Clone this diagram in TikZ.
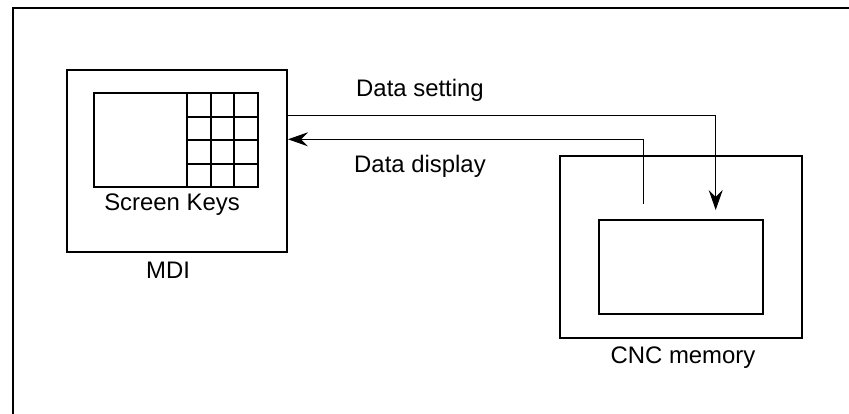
\documentclass[tikz,border=0pt]{standalone}
\usepackage{fontspec}
\setmainfont{Liberation Sans}
\usetikzlibrary{arrows.meta,calc}
\begin{document}
\begin{tikzpicture}[x=1pt,y=-1pt,
  box/.style={draw,line width=2pt,inner sep=0pt,anchor=north west},
  conn/.style={draw,line width=1pt},
  tip/.style={-{Stealth[length=20pt,width=14pt,inset=7pt]}},
  lbl/.style={font=\fontsize{23.9}{28}\selectfont,inner sep=0pt}]
\useasboundingbox (0,0) rectangle (849,414);
\fill[white] (0,0) rectangle (849,414);
% frame
\draw[line width=2pt] (12.7,414) -- (12.7,8) -- (849,8);
% MDI
\node[box,minimum width=220pt,minimum height=182pt] (mdi) at (66,69) {};
\node[box,minimum width=164pt,minimum height=93.7pt] (scr) at (92.7,92.3) {};
\draw[line width=2pt] (187,92.3) -- (187,186)
  (211.3,92.3) -- (211.3,186) (234.3,92.3) -- (234.3,186)
  (187,116.7) -- (256.7,116.7) (187,140) -- (256.7,140) (187,163.7) -- (256.7,163.7);
\node[lbl] (sk) at (172,205) {Screen Keys};
\node[lbl] (mdil) at (168,270) {MDI};
% CNC
\node[box,minimum width=241.4pt,minimum height=181.7pt] (cnc) at (559.3,155) {};
\node[box,minimum width=164pt,minimum height=94.3pt] (mem) at (597.7,219) {};
\node[lbl] (cncl) at (683,358) {CNC memory};
% connectors
\coordinate (setend) at (715.7,210);
\coordinate (dispstart) at (643.3,204);
\draw[conn,tip] ($(mdi.north east)+(0,46.7)$) -| (setend);
\draw[conn,tip] (dispstart) |- ($(mdi.north east)+(0,70.3)$);
\node[lbl] (ds) at (420,90) {Data setting};
\node[lbl] (dd) at (420,166) {Data display};
\end{tikzpicture}
\end{document}
